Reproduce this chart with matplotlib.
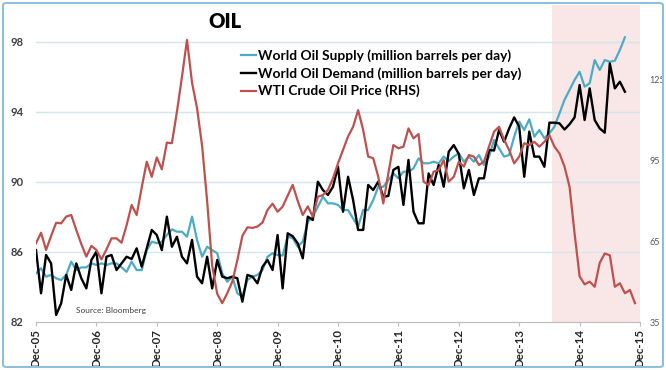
import matplotlib
matplotlib.use("Agg")
import matplotlib.pyplot as plt
from matplotlib.patches import FancyBboxPatch

plt.rcParams['font.family'] = ['Lato', 'DejaVu Sans']

# monthly points, index 0 = Dec-05
supply = [84.78, 85.07, 84.59, 84.69, 84.5, 84.4, 84.69, 85.45, 84.97, 85.12,
          85.12, 85.35, 85.26, 85.35, 85.26, 85.35, 85.35, 85.12, 84.87, 85.45,
          84.97, 84.97, 86.11, 86.59, 86.5, 86.59, 86.97, 87.3, 87.16, 87.16,
          86.87, 88.02, 86.69, 85.73, 86.3, 86.11, 85.93, 84.78, 84.3, 84.59,
          83.64, 83.45, 84.4, 84.59, 84.69, 84.97, 85.73, 85.93, 85.83, 85.8,
          86.87, 86.8, 86.3, 86.6, 87.73, 88.02, 88.59, 89.16, 88.78, 88.78,
          88.69, 88.4, 88.4, 87.92, 87.45, 88.4, 88.4, 88.97, 89.73, 89.73,
          90.11, 90.49, 90.21, 90.59, 90.59, 90.78, 91.35, 91.07, 91.07, 91.16,
          91.07, 91.45, 91.2, 91.45, 91.64, 91.16, 91.45, 91.16, 91.54, 90.97,
          91.45, 92.4, 91.92, 91.45, 91.54, 92.59, 93.45, 92.97, 93.58, 92.59,
          92.97, 92.5, 92.78, 93.16, 93.92, 94.69, 95.26, 95.83, 96.3, 95.45,
          95.64, 96.97, 96.4, 96.97, 96.87, 96.93, 97.54, 98.27]

demand = [86.11, 83.64, 85.83, 85.35, 82.4, 83.07, 84.69, 83.83, 85.35, 84.5,
          83.92, 85.54, 86.02, 83.64, 85.73, 85.83, 84.97, 85.35, 85.73, 85.6,
          86.21, 85.16, 86.21, 87.26, 86.97, 86.11, 88.02, 86.3, 86.87, 85.73,
          85.35, 86.69, 84.59, 84.21, 85.73, 83.92, 85.54, 84.59, 84.5, 84.59,
          84.5, 83.16, 84.69, 84.59, 84.21, 85.16, 85.54, 84.97, 86.97, 83.92,
          87.07, 86.9, 86.5, 85.64, 88.02, 87.83, 90.02, 89.54, 89.26, 89.73,
          90.87, 88.3, 90.3, 88.97, 87.26, 87.26, 89.83, 89.54, 90.02, 89.16,
          89.2, 90.69, 90.87, 88.69, 91.26, 88.3, 87.64, 87.64, 90.49, 89.83,
          90.97, 89.73, 91.73, 92.11, 91.6, 89.64, 90.69, 89.26, 90.21, 90.21,
          91.83, 91.8, 92.97, 92.3, 93.06, 93.69, 93.16, 90.3, 92.88, 91.45,
          91.45, 90.87, 93.39, 93.39, 93.35, 93.0, 93.3, 93.69, 95.54, 93.54,
          95.35, 93.54, 93.06, 92.82, 96.78, 95.35, 95.73, 95.16]

wti = [64.3, 68.2, 61.8, 67, 71.9, 71.7, 74.2, 74.8, 69.2, 64,
       59.3, 63.3, 61.8, 58.3, 62, 66.1, 66.1, 64.5, 71, 78.5,
       74.8, 85, 94.6, 89.0, 96.2, 91.8, 101.7, 101.5, 113.2, 126.2,
       139.9, 124, 114.5, 100.5, 80, 56, 45.5, 42, 45.7, 50,
       58, 67, 70.2, 70, 70.5, 72, 76.7, 79, 76, 77.9,
       82, 86, 80, 74.8, 78, 74.2, 81.6, 82.2, 84.1, 88.4,
       94.0, 99, 104, 107.6, 113.8, 106.4, 96.5, 95.9, 89.0, 79.1,
       90.3, 100.8, 99.6, 100.2, 107.0, 103.3, 104.9, 87.2, 85.9, 90.9,
       91.5, 95.2, 87.2, 89.0, 94.6, 92.8, 97.1, 96.5, 93.4, 94.6,
       100.2, 105.8, 107.6, 102.7, 99.0, 94.0, 96.5, 101.5, 100.8, 102.0,
       100.2, 102.0, 104.5, 100.2, 97.7, 92.8, 85.3, 68, 52, 49,
       50.0, 48.1, 57, 60.5, 59.8, 48.1, 49.4, 45.7, 46.9, 42.0]

tick_labels = ['Dec-05', 'Dec-06', 'Dec-07', 'Dec-08', 'Dec-09', 'Dec-10',
               'Dec-11', 'Dec-12', 'Dec-13', 'Dec-14', 'Dec-15']
left_ticks = [82, 86, 90, 94, 98]
right_ticks = [35, 65, 95, 125]
shade_start = 102.6  # mid 2014
shade_end = 120

W, H = 666, 370
fig = plt.figure(figsize=(W / 100, H / 100), dpi=100)
ax = fig.add_axes([36 / W, 1 - 322 / H, 604 / W, 317 / H])
ax2 = ax.twinx()

months_s = list(range(len(supply)))
months_d = list(range(len(demand)))
months_p = list(range(len(wti)))

ax.axvspan(shade_start, shade_end, color='#f9e7e7', zorder=0, lw=0)
l1, = ax.plot(months_s, supply, color='#4bacc6', lw=1.6, zorder=3,
              label='World Oil Supply (million barrels per day)')
l2, = ax.plot(months_d, demand, color='black', lw=1.7, zorder=4,
              label='World Oil Demand (million barrels per day)')
l3, = ax2.plot(months_p, wti, color='#c0504d', lw=1.6,
               label='WTI Crude Oil Price (RHS)')

# left axis
ax.set_xlim(0, 120)
ax.set_ylim(82, 82 + 317 / 17.5)
ax.set_yticks(left_ticks)
ax.set_yticklabels([str(v) for v in left_ticks], fontweight='bold',
                   color='#404040', fontsize=8)
ax.tick_params(axis='y', length=0, pad=9)
for v in left_ticks[1:]:
    ax.axhline(v, color='#d5e5ec', lw=1.0, zorder=1)

ax.set_xticks(range(0, 121, 12))
ax.set_xticklabels(tick_labels, rotation=90, fontweight='bold', fontsize=8.3,
                   color='#262626')
ax.tick_params(axis='x', length=3, color='#bfbfbf', pad=2)

# right axis
ax2.set_ylim(35, 35 + 317 / 2.689)
ax2.set_yticks(right_ticks)
ax2.set_yticklabels([str(v) for v in right_ticks], fontsize=6.5, color='#595959')
ax2.tick_params(axis='y', length=0, pad=7)

for a in (ax, ax2):
    for side in ('top', 'left', 'right'):
        a.spines[side].set_visible(False)
    a.spines['bottom'].set_color('#bfbfbf')
    a.patch.set_visible(False)

fig.legend(handles=[l1, l2, l3], loc='upper left',
           bbox_to_anchor=(241 / W, 1 - 49 / H), frameon=False,
           prop={'weight': 'bold', 'size': 9.9}, handlelength=1.1,
           handletextpad=0.15, labelspacing=0.38, borderaxespad=0,
           borderpad=0)

fig.text(225 / W, 1 - 22 / H, 'OIL', ha='center', va='center',
         fontsize=14.5, fontweight='heavy', color='black')
fig.text(76 / W, 1 - 310 / H, 'Source: Bloomberg', ha='left', va='center',
         fontsize=6, color='#404040')

frame = FancyBboxPatch((3 / W, 3 / H), (W - 6) / W, (H - 6) / H,
                       boxstyle='round,pad=0,rounding_size=0.006',
                       transform=fig.transFigure, fill=False,
                       edgecolor='#8dc0dd', lw=1.5)
fig.patches.append(frame)

fig.savefig('out.png', dpi=100)
